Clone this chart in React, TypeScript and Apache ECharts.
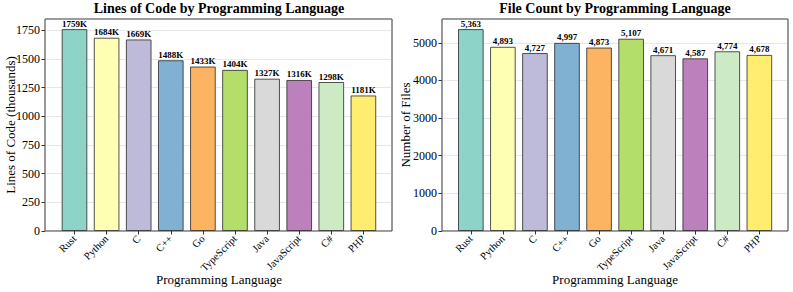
import React, { useEffect, useRef } from "react";
import * as echarts from "echarts";

const languages = ["Rust", "Python", "C", "C++", "Go", "TypeScript", "Java", "JavaScript", "C#", "PHP"];
const linesOfCode = [1759, 1684, 1669, 1488, 1433, 1404, 1327, 1316, 1298, 1181];
const fileCounts = [5363, 4893, 4727, 4997, 4873, 5107, 4671, 4587, 4774, 4678];
const barColors = ["#8dd3c7", "#ffffb3", "#bebada", "#80b1d3", "#fdb462", "#b3de69", "#d9d9d9", "#bc80bd", "#ccebc5", "#ffed6f"];

const FONT = "'Liberation Serif', 'Times New Roman', serif";

export default function App() {
  const ref = useRef<HTMLDivElement>(null);
  useEffect(() => {
    if (!ref.current) return;
    const chart = echarts.init(ref.current, null, { renderer: "svg" });
    const yMax1 = 1847;
    const yMax2 = 5631;
    const frameGrid = (left: number, width: number) => ({
      left, top: 19, width, height: 212, show: true, outerBoundsMode: "none", containLabel: false,
      borderColor: "#333", borderWidth: 1, backgroundColor: "transparent",
    });
    const barGrid = (left: number, width: number) => ({
      left, top: 19, width, height: 212, outerBoundsMode: "none", containLabel: false,
    });
    const visibleY = (gridIndex: number, max: number, interval: number, name: string, nameGap: number) => ({
      type: "value", gridIndex, min: 0, max, interval,
      name, nameLocation: "middle", nameGap, nameMoveOverlap: false,
      nameTextStyle: { fontFamily: FONT, fontSize: 13, color: "#000" },
      axisLine: { show: false },
      axisTick: { show: true, length: 3.5, lineStyle: { color: "#333" } },
      axisLabel: {
        fontFamily: FONT, fontSize: 12, color: "#000", margin: 5, showMaxLabel: false,
        formatter: (v: number) => String(v),
      },
      splitLine: { show: true, lineStyle: { color: "rgba(176,176,176,0.3)", width: 1 } },
    });
    const hiddenY = (gridIndex: number, max: number) => ({
      type: "value", gridIndex, min: 0, max, show: false, splitLine: { show: false },
    });
    const hiddenX = (gridIndex: number) => ({
      type: "category", gridIndex, data: languages, show: false,
    });
    const catX = (gridIndex: number) => ({
      type: "category", gridIndex, data: languages,
      name: "Programming Language", nameLocation: "middle", nameGap: 42, nameMoveOverlap: false,
      nameTextStyle: { fontFamily: FONT, fontSize: 13, color: "#000" },
      axisLine: { show: false },
      axisTick: { show: true, alignWithLabel: true, length: 3.5, lineStyle: { color: "#333" } },
      axisLabel: { fontFamily: FONT, fontSize: 10.5, color: "#000", rotate: 45, margin: 6, interval: 0 },
    });
    const barSeries = (xAxisIndex: number, yAxisIndex: number, values: number[], fmt: (v: number) => string) => ({
      type: "bar", xAxisIndex, yAxisIndex, barWidth: "80%",
      data: values.map((v, i) => ({
        value: v,
        itemStyle: { color: barColors[i], borderColor: "rgba(40,40,40,0.8)", borderWidth: 1 },
      })),
      label: {
        show: true, position: "top", distance: 1,
        fontFamily: FONT, fontSize: 9, fontWeight: "bold", color: "#000",
        formatter: (p: any) => fmt(p.value),
      },
    });
    chart.setOption({
      animation: false,
      backgroundColor: "#fff",
      title: [
        {
          text: "Lines of Code by Programming Language", left: 219, top: 1, padding: 0, textAlign: "center",
          textStyle: { fontFamily: FONT, fontSize: 14, fontWeight: "bold", color: "#000" },
        },
        {
          text: "File Count by Programming Language", left: 615, top: 1, padding: 0, textAlign: "center",
          textStyle: { fontFamily: FONT, fontSize: 14, fontWeight: "bold", color: "#000" },
        },
      ],
      grid: [
        frameGrid(45, 347),
        barGrid(58.45, 321),
        frameGrid(442, 346),
        barGrid(454.8, 320.6),
      ],
      xAxis: [hiddenX(0), catX(1), hiddenX(2), catX(3)],
      yAxis: [
        visibleY(0, yMax1, 250, "Lines of Code (thousands)", 28),
        hiddenY(1, yMax1),
        visibleY(2, yMax2, 1000, "Number of Files", 30),
        hiddenY(3, yMax2),
      ],
      series: [
        barSeries(1, 1, linesOfCode, (v) => `${v}K`),
        barSeries(3, 3, fileCounts, (v) => v.toLocaleString("en-US")),
      ],
    });
    return () => chart.dispose();
  }, []);
  return <div ref={ref} style={{ position: "fixed", left: 0, top: 0, width: 793, height: 292 }} />;
}
